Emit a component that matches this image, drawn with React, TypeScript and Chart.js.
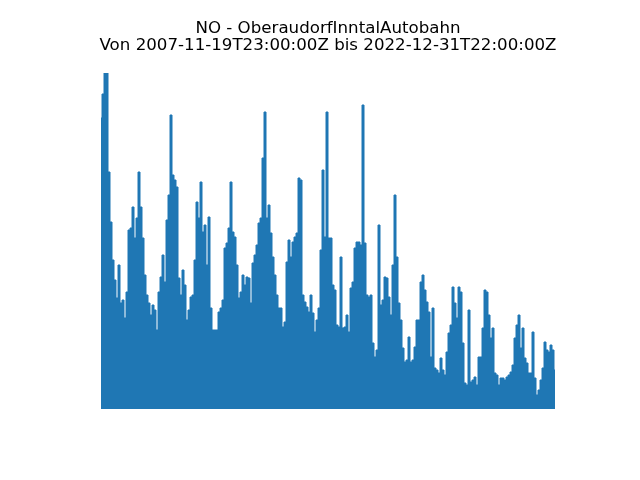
import React, { useEffect, useRef } from "react";
import { Chart, registerables } from "chart.js";

Chart.register(...registerables);

const titleLines = [
  "NO - OberaudorfInntalAutobahn",
  "Von 2007-11-19T23:00:00Z bis 2022-12-31T22:00:00Z",
];

// Envelope of NO values, one per time step, 2007-11 .. 2022-12
const noValues = [
  291, 315, 336, 336, 237, 187, 149, 129, 111, 144, 106, 109, 91, 117, 179, 181,
  202, 171, 191, 237, 202, 171, 134, 114, 106, 94, 104, 99, 79, 117, 132, 154,
  127, 189, 214, 294, 234, 229, 222, 131, 114, 139, 124, 89, 99, 112, 114, 149,
  207, 191, 227, 177, 184, 144, 192, 101, 79, 79, 79, 97, 101, 109, 161, 166,
  181, 227, 177, 172, 144, 111, 117, 134, 124, 132, 131, 106, 146, 154, 164, 186,
  191, 251, 297, 191, 204, 176, 152, 134, 114, 101, 101, 82, 87, 147, 169, 152,
  167, 172, 176, 231, 229, 114, 107, 102, 97, 114, 96, 77, 89, 101, 159, 239,
  172, 297, 171, 171, 124, 119, 84, 82, 152, 81, 82, 94, 77, 121, 127, 161,
  167, 167, 164, 304, 166, 114, 112, 114, 66, 52, 59, 184, 104, 109, 132, 131,
  112, 94, 144, 214, 152, 106, 89, 61, 47, 49, 72, 47, 49, 62, 89, 89,
  127, 134, 119, 107, 97, 52, 101, 41, 39, 36, 51, 39, 34, 57, 76, 84,
  122, 106, 91, 122, 117, 66, 26, 24, 99, 27, 29, 32, 24, 52, 52, 81,
  119, 117, 94, 71, 81, 36, 34, 24, 31, 31, 29, 32, 34, 37, 44, 71,
  84, 94, 61, 81, 51, 46, 36, 36, 77, 31, 14, 19, 29, 41, 67, 59,
  57, 64, 59, 39,
];

const stepLabels = noValues.map((_, i) => String(i));

const yMin = 0;
const yMax = 336;

const titlePlugin = {
  id: "mplTitle",
  afterDraw(chart: any) {
    const ctx = chart.ctx;
    ctx.save();
    ctx.fillStyle = "#000000";
    ctx.font = "16.67px 'DejaVu Sans'";
    ctx.textAlign = "center";
    ctx.textBaseline = "alphabetic";
    ctx.fillText(titleLines[0], 328, 33);
    ctx.fillText(titleLines[1], 328, 50);
    ctx.restore();
  },
};

export default function App() {
  const ref = useRef<HTMLCanvasElement | null>(null);
  useEffect(() => {
    if (!ref.current) return;
    const chart = new Chart(ref.current, {
      type: "line",
      data: {
        labels: stepLabels,
        datasets: [
          {
            data: noValues,
            borderColor: "#1f77b4",
            backgroundColor: "#1f77b4",
            borderWidth: 1,
            pointRadius: 0,
            stepped: "middle",
            fill: "origin",
          },
        ],
      },
      options: {
        responsive: false,
        animation: false,
        layout: { padding: { left: 101, right: 85, top: 73, bottom: 71 } },
        plugins: {
          legend: { display: false },
          tooltip: { enabled: false },
          title: { display: false },
        },
        scales: {
          x: { display: false, offset: false },
          y: { display: false, min: yMin, max: yMax },
        },
      },
      plugins: [titlePlugin],
    });
    return () => chart.destroy();
  }, []);
  return (
    <div style={{ position: "fixed", left: 0, top: 0, width: 640, height: 480, background: "#ffffff" }}>
      <canvas ref={ref} width={640} height={480} />
    </div>
  );
}
